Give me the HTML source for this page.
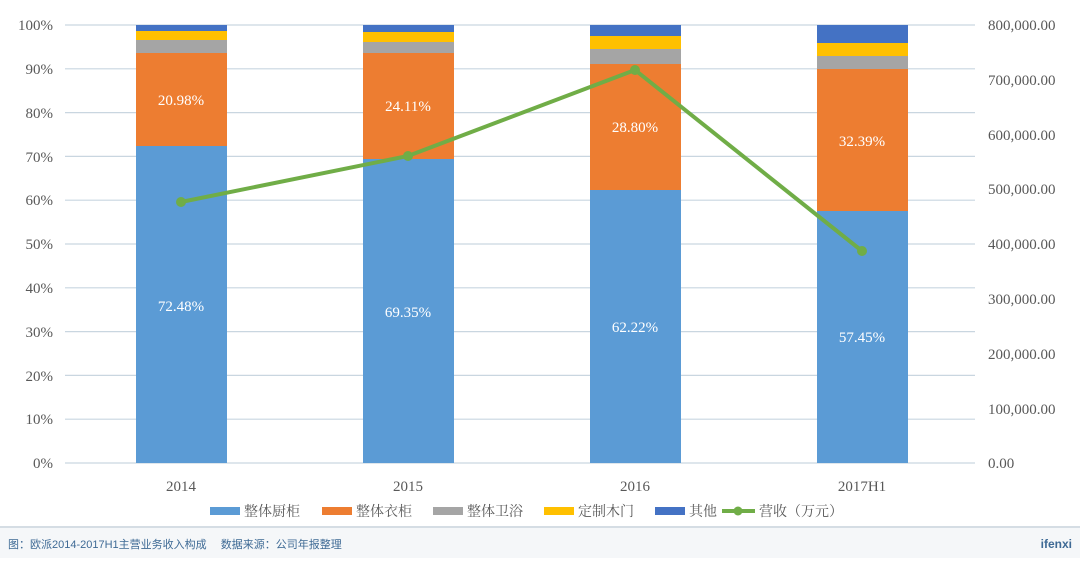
<!DOCTYPE html>
<html><head><meta charset="utf-8"><style>
body{margin:0;background:#fff;}
svg text{font-family:"Liberation Serif","Noto Serif CJK SC",serif;}
</style></head><body>
<svg width="1080" height="558" xmlns="http://www.w3.org/2000/svg">
<rect width="1080" height="558" fill="#fff"/>
<g stroke="#c9d6e0" stroke-width="1.2">
<line x1="65" x2="975" y1="25" y2="25"/><line x1="65" x2="975" y1="68.8" y2="68.8"/><line x1="65" x2="975" y1="112.6" y2="112.6"/><line x1="65" x2="975" y1="156.4" y2="156.4"/><line x1="65" x2="975" y1="200.2" y2="200.2"/><line x1="65" x2="975" y1="244" y2="244"/><line x1="65" x2="975" y1="287.8" y2="287.8"/><line x1="65" x2="975" y1="331.6" y2="331.6"/><line x1="65" x2="975" y1="375.4" y2="375.4"/><line x1="65" x2="975" y1="419.2" y2="419.2"/><line x1="65" x2="975" y1="463" y2="463"/>
</g>
<g font-size="15" fill="#595959" text-anchor="end">
<text x="53" y="30">100%</text><text x="53" y="74">90%</text><text x="53" y="118">80%</text><text x="53" y="162">70%</text><text x="53" y="205">60%</text><text x="53" y="249">50%</text><text x="53" y="293">40%</text><text x="53" y="337">30%</text><text x="53" y="381">20%</text><text x="53" y="424">10%</text><text x="53" y="468">0%</text>
</g>
<g font-size="15" fill="#595959" text-anchor="start">
<text x="988" y="30">800,000.00</text><text x="988" y="85">700,000.00</text><text x="988" y="140">600,000.00</text><text x="988" y="194">500,000.00</text><text x="988" y="249">400,000.00</text><text x="988" y="304">300,000.00</text><text x="988" y="359">200,000.00</text><text x="988" y="414">100,000.00</text><text x="988" y="468">0.00</text>
</g>
<!-- bars -->
<g>
<rect x="136" y="146" width="91" height="317" fill="#5b9bd5"/><rect x="136" y="53" width="91" height="93" fill="#ed7d31"/><rect x="136" y="40" width="91" height="13" fill="#a5a5a5"/><rect x="136" y="31" width="91" height="9" fill="#ffc000"/><rect x="136" y="25" width="91" height="6" fill="#4472c4"/>
<rect x="363" y="159" width="91" height="304" fill="#5b9bd5"/><rect x="363" y="53" width="91" height="106" fill="#ed7d31"/><rect x="363" y="42" width="91" height="11" fill="#a5a5a5"/><rect x="363" y="32" width="91" height="10" fill="#ffc000"/><rect x="363" y="25" width="91" height="7" fill="#4472c4"/>
<rect x="590" y="190" width="91" height="273" fill="#5b9bd5"/><rect x="590" y="64" width="91" height="126" fill="#ed7d31"/><rect x="590" y="49" width="91" height="15" fill="#a5a5a5"/><rect x="590" y="36" width="91" height="13" fill="#ffc000"/><rect x="590" y="25" width="91" height="11" fill="#4472c4"/>
<rect x="817" y="211" width="91" height="252" fill="#5b9bd5"/><rect x="817" y="69" width="91" height="142" fill="#ed7d31"/><rect x="817" y="56" width="91" height="13" fill="#a5a5a5"/><rect x="817" y="43" width="91" height="13" fill="#ffc000"/><rect x="817" y="25" width="91" height="18" fill="#4472c4"/>
</g>
<g font-size="15" fill="#fff" text-anchor="middle">
<text x="181" y="105">20.98%</text><text x="181" y="311">72.48%</text>
<text x="408" y="111">24.11%</text><text x="408" y="317">69.35%</text>
<text x="635" y="132">28.80%</text><text x="635" y="332">62.22%</text>
<text x="862" y="146">32.39%</text><text x="862" y="342">57.45%</text>
</g>
<polyline points="181,202 408,156 635,70 862,251" fill="none" stroke="#70ad47" stroke-width="4"/>
<g fill="#70ad47"><circle cx="181" cy="202" r="5"/><circle cx="408" cy="156" r="5"/><circle cx="635" cy="70" r="5"/><circle cx="862" cy="251" r="5"/></g>
<g font-size="15" fill="#595959" text-anchor="middle">
<text x="181" y="491">2014</text><text x="408" y="491">2015</text><text x="635" y="491">2016</text><text x="862" y="491">2017H1</text>
</g>
<g font-size="14" fill="#595959">
<rect x="210" y="507" width="30" height="8" fill="#5b9bd5"/><text x="244" y="516">整体厨柜</text>
<rect x="322" y="507" width="30" height="8" fill="#ed7d31"/><text x="356" y="516">整体衣柜</text>
<rect x="433" y="507" width="30" height="8" fill="#a5a5a5"/><text x="467" y="516">整体卫浴</text>
<rect x="544" y="507" width="30" height="8" fill="#ffc000"/><text x="578" y="516">定制木门</text>
<rect x="655" y="507" width="30" height="8" fill="#4472c4"/><text x="689" y="516">其他</text>
<line x1="722" x2="755" y1="511" y2="511" stroke="#70ad47" stroke-width="4"/><circle cx="738" cy="511" r="4.5" fill="#70ad47"/><text x="759" y="516">营收（万元）</text>
</g>
<rect x="0" y="527" width="1080" height="31" fill="#f5f7f9"/>
<line x1="0" x2="1080" y1="527" y2="527" stroke="#d5dde4" stroke-width="2"/>
<text x="8" y="548" font-size="11" fill="#3e6a95" style="font-family:'Liberation Sans','Noto Sans CJK SC',sans-serif">图：欧派2014-2017H1主营业务收入构成　 数据来源：公司年报整理</text>
<text x="1072" y="548" font-size="12" font-weight="bold" fill="#3e6a95" text-anchor="end" style="font-family:'Liberation Sans',sans-serif">ifenxi</text>
</svg>
</body></html>
